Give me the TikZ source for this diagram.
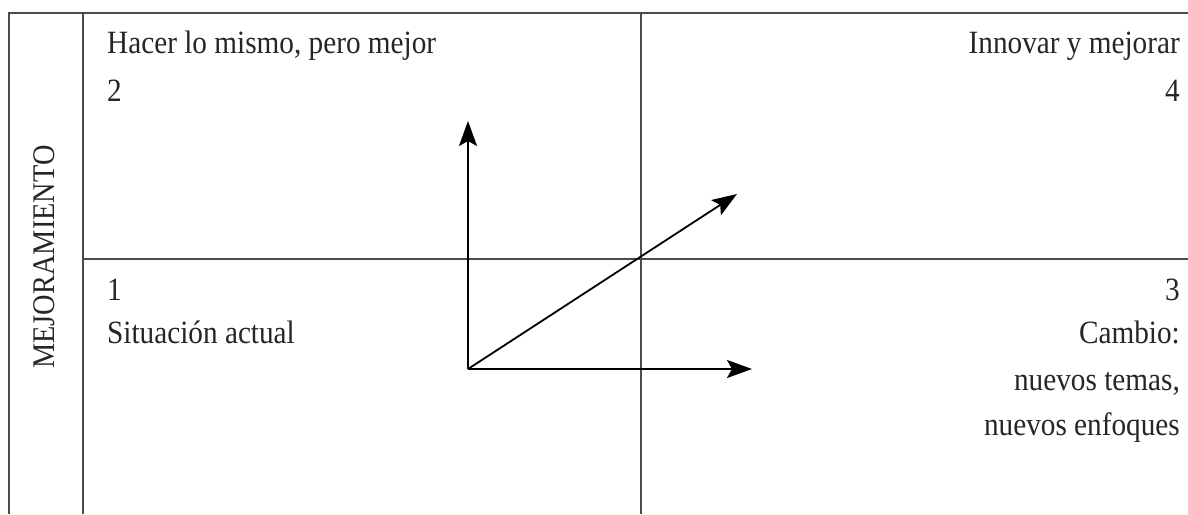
\documentclass[tikz,border=0pt]{standalone}
\usepackage{fontspec}
\setmainfont[FakeStretch=0.9]{Liberation Serif}
\usetikzlibrary{arrows.meta}

\begin{document}
\begin{tikzpicture}[
		x=1pt, y=-1pt,
		rule/.style={draw=black!70, line width=1.7pt},
		vector/.style={draw=black, line width=1.8pt, -{Stealth[length=25pt, width=18pt, inset=5pt]}},
		quadrant/.style={inner sep=0pt, font=\fontsize{32.5}{38}\selectfont, text=black!85}
		]
		\useasboundingbox (0,0) rectangle (1188,514);
		% frame and quadrants
		\draw [rule] (9,514) -- (9,13) -- (1188,13);
		\draw [rule] (83,13) -- (83,514);
		\draw [rule] (641,13) -- (641,514);
		\draw [rule] (83,259) -- (1188,259);
		% side label
		\node [quadrant, rotate=90, font=\fontsize{31.5}{36}\selectfont] (mejoramiento) at (44,257) {MEJORAMIENTO};
		% quadrant texts
		\node [quadrant, anchor=base west] (hacer) at (107,53) {Hacer lo mismo, pero mejor};
		\node [quadrant, anchor=base west] (two) at (107,101) {2};
		\node [quadrant, anchor=base east] (innovar) at (1180,53) {Innovar y mejorar};
		\node [quadrant, anchor=base east] (four) at (1180,101) {4};
		\node [quadrant, anchor=base west] (one) at (107,300) {1};
		\node [quadrant, anchor=base west] (actual) at (107,343) {Situación actual};
		\node [quadrant, anchor=base east] (three) at (1180,300) {3};
		\node [quadrant, anchor=base east] (cambio) at (1180,343) {Cambio:};
		\node [quadrant, anchor=base east] (temas) at (1180,390) {nuevos temas,};
		\node [quadrant, anchor=base east] (enfoques) at (1180,435) {nuevos enfoques};
		% vectors
		\coordinate (origin) at (468,369);
		\coordinate (better) at (468,121);
		\coordinate (change) at (752,369);
		\coordinate (innovate) at (737,194);
		\draw [vector] (origin) -- (better);
		\draw [vector] (origin) -- (change);
		\draw [vector] (origin) -- (innovate);
	\end{tikzpicture}
\end{document}
